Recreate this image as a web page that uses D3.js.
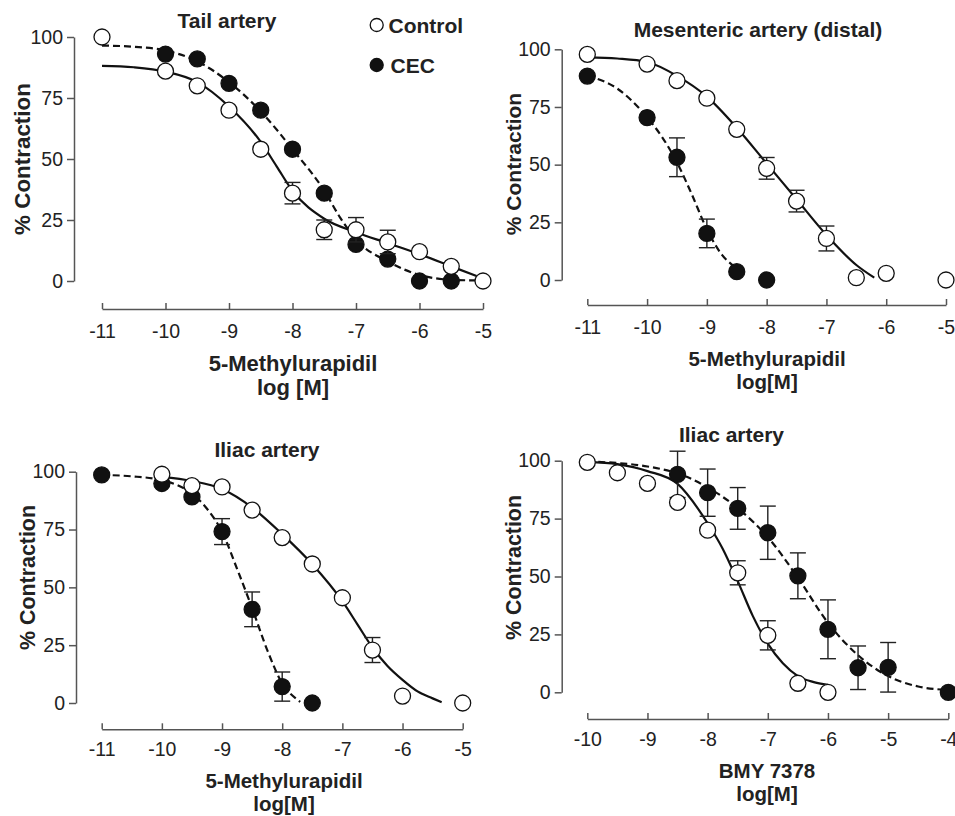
<!DOCTYPE html>
<html>
<head>
<meta charset="utf-8">
<script src="https://cdn.jsdelivr.net/npm/d3@7"></script>
<style>
  body { margin: 0; background: #fff; }
  svg text { font-family: "Liberation Sans", Arial, sans-serif; fill: #222; }
  .tick text { font-size: 19.5px; }
  .domain, .tick line { stroke: #555; stroke-width: 1.5; }
  .title, .label, .legend { font-weight: bold; }
</style>
</head>
<body>
<div id="chart"></div>
<script>
// ---- Tail artery (5-Methylurapidil)
var tailCtrlDose = [-11, -10, -9.5, -9, -8.5, -8, -7.5, -7, -6.5, -6, -5.5, -5];
var tailCtrl     = [100, 86, 80, 70, 54, 36, 21, 21, 16, 12, 6, 0];
var tailCtrlErr  = [0, 0, 0, 0, 0, 4.4, 4, 5, 4.8, 0, 0, 0];
var tailCecDose  = [-10, -9.5, -9, -8.5, -8, -7.5, -7, -6.5, -6, -5.5];
var tailCec      = [93, 91, 81, 70, 54, 36, 15, 9, 0, 0];
var tailCecErr   = [0, 0, 0, 0, 0, 0, 0, 0, 0, 0];
var tailCtrlFitX = [-11, -10.5, -10, -9.5, -9, -8.5, -8.25, -8, -7.5, -7, -6.5, -6, -5.5, -5.05];
var tailCtrlFitY = [88.2, 87.6, 85.8, 81.5, 71.5, 57, 47, 37, 25.5, 20, 15.5, 11, 6, 1.5];
var tailCecFitX  = [-11, -10.5, -10, -9.5, -9, -8.5, -8, -7.5, -7.25, -7, -6.5, -6, -5.5, -5];
var tailCecFitY  = [96.5, 96, 94.5, 90, 81.5, 69.5, 54, 37, 26, 17, 8, 2.5, 0.5, 0.2];

// ---- Mesenteric artery (distal) (5-Methylurapidil)
var mesCtrlDose = [-11, -10, -9.5, -9, -8.5, -8, -7.5, -7, -6.5, -6, -5];
var mesCtrl     = [97.8, 93.6, 86.4, 78.8, 65.3, 48.4, 34.2, 18, 1, 2.9, 0];
var mesCtrlErr  = [0, 0, 0, 0, 0, 4.7, 4.7, 5.4, 0, 0, 0];
var mesCecDose  = [-11, -10, -9.5, -9, -8.5, -8];
var mesCec      = [88.4, 70.4, 53.2, 20.2, 3.6, 0];
var mesCecErr   = [0, 0, 8.4, 6.2, 0, 0];
var mesCtrlFitX = [-11, -10.5, -10, -9.5, -9, -8.5, -8, -7.5, -7, -6.5, -6.2];
var mesCtrlFitY = [96.5, 96, 94.5, 88.5, 79.5, 66, 50.5, 35, 19.5, 6.5, 1];
var mesCecFitX  = [-11, -10.5, -10, -9.75, -9.5, -9.25, -9, -8.75, -8.5, -8.35];
var mesCecFitY  = [88.5, 83, 70.5, 62, 51, 37, 22, 11, 5, 2];

// ---- Iliac artery (5-Methylurapidil)
var ilCtrlDose = [-10, -9.5, -9, -8.5, -8, -7.5, -7, -6.5, -6, -5];
var ilCtrl     = [98.9, 94, 93.4, 83.4, 71.5, 60.1, 45.5, 22.9, 3, 0];
var ilCtrlErr  = [0, 0, 0, 0, 0, 0, 0, 5.4, 0, 0];
var ilCecDose  = [-11, -10, -9.5, -9, -8.5, -8, -7.5];
var ilCec      = [98.6, 94.9, 89.1, 74.1, 40.5, 7.1, 0];
var ilCecErr   = [0, 0, 0, 5.6, 7.5, 6.3, 0];
var ilCtrlFitX = [-10, -9.5, -9, -8.5, -8, -7.5, -7, -6.75, -6.5, -6.25, -6, -5.75, -5.5, -5.35];
var ilCtrlFitY = [97.8, 96, 92.5, 84.5, 73, 60, 44, 34, 24, 16, 10, 5, 2, 0.3];
var ilCecFitX  = [-11, -10.5, -10, -9.5, -9.25, -9, -8.75, -8.5, -8.25, -8, -7.75, -7.7];
var ilCecFitY  = [98.6, 98, 96.3, 90.5, 84, 74, 58, 41, 23, 8.5, 1.5, 0.5];

// ---- Iliac artery (BMY 7378)
var bmyCtrlDose = [-10, -9.5, -9, -8.5, -8, -7.5, -7, -6.5, -6];
var bmyCtrl     = [99.3, 94.8, 90.2, 82, 70, 51.6, 24.6, 3.9, 0];
var bmyCtrlErr  = [0, 0, 0, 0, 0, 5.2, 6.3, 0, 0];
var bmyCecDose  = [-8.5, -8, -7.5, -7, -6.5, -6, -5.5, -5, -4];
var bmyCec      = [94.1, 86.2, 79.4, 68.9, 50.3, 27.2, 10.6, 10.8, 0];
var bmyCecErr   = [10, 10.2, 9, 11.5, 9.9, 12.7, 9.4, 10.7, 0];
var bmyCtrlFitX = [-10, -9.5, -9, -8.5, -8, -7.75, -7.5, -7.25, -7, -6.75, -6.5, -6.25, -6];
var bmyCtrlFitY = [99.5, 98.5, 95.5, 90, 73, 62, 48, 33, 21, 12.5, 7, 4.5, 3.2];
var bmyCecFitX  = [-10, -9.5, -9, -8.5, -8, -7.5, -7, -6.5, -6, -5.5, -5, -4.5, -4];
var bmyCecFitY  = [99.6, 99, 97.5, 94.5, 88.5, 79.5, 67, 49.5, 30, 16, 7, 2.5, 1];

var yTicks = [0, 25, 50, 75, 100];

function zip(a, b, e) {
    return a.map(function(d, i) { return { x: d, y: b[i], e: e ? e[i] : 0 }; });
}

// layout of the four panels (pixel boxes)
var panels = [
    { title: "Tail artery", drug: "5-Methylurapidil", unit: "log [M]",
      xDom: [-11, -5], xr: [102, 483], yr: [281, 37], yAxisX: 74, xAxisY: 309, pad: 15,
      titleXY: [227, 27.5], ylabXY: [29.5, 159], xlabXY: [293, 371], unitY: 394.5,
      xlabSize: 22, ylabSize: 22.4,
      ctrl: zip(tailCtrlDose, tailCtrl, tailCtrlErr), cec: zip(tailCecDose, tailCec, tailCecErr),
      ctrlFit: zip(tailCtrlFitX, tailCtrlFitY), cecFit: zip(tailCecFitX, tailCecFitY), legend: true },
    { title: "Mesenteric artery (distal)", drug: "5-Methylurapidil", unit: "log[M]",
      xDom: [-11, -5], xr: [587.3, 946], yr: [280, 49.3], yAxisX: 561.7, xAxisY: 305, pad: 15,
      titleXY: [758, 37], ylabXY: [521, 164], xlabXY: [767, 365.5], unitY: 388.5,
      xlabSize: 20.5, ylabSize: 21,
      ctrl: zip(mesCtrlDose, mesCtrl, mesCtrlErr), cec: zip(mesCecDose, mesCec, mesCecErr),
      ctrlFit: zip(mesCtrlFitX, mesCtrlFitY), cecFit: zip(mesCecFitX, mesCecFitY) },
    { title: "Iliac artery", drug: "5-Methylurapidil", unit: "log[M]",
      xDom: [-11, -5], xr: [101.7, 462.7], yr: [703, 471.7], yAxisX: 76, xAxisY: 729.3, pad: 13,
      titleXY: [267, 457], ylabXY: [34.5, 577.5], xlabXY: [284, 787.5], unitY: 811,
      xlabSize: 20.5, ylabSize: 21.4,
      ctrl: zip(ilCtrlDose, ilCtrl, ilCtrlErr), cec: zip(ilCecDose, ilCec, ilCecErr),
      ctrlFit: zip(ilCtrlFitX, ilCtrlFitY), cecFit: zip(ilCecFitX, ilCecFitY) },
    { title: "Iliac artery", drug: "BMY 7378", unit: "log[M]",
      xDom: [-10, -4], xr: [587.3, 948.3], yr: [692.3, 460.7], yAxisX: 561.7, xAxisY: 719, pad: 13,
      titleXY: [731.5, 441.5], ylabXY: [521, 567.5], xlabXY: [767, 777.5], unitY: 801,
      xlabSize: 20.5, ylabSize: 21.4,
      ctrl: zip(bmyCtrlDose, bmyCtrl, bmyCtrlErr), cec: zip(bmyCecDose, bmyCec, bmyCecErr),
      ctrlFit: zip(bmyCtrlFitX, bmyCtrlFitY), cecFit: zip(bmyCecFitX, bmyCecFitY) }
];

var svg = d3.select("#chart").append("svg")
    .attr("width", 955)
    .attr("height", 816);

function drawSeries(g, x, y, data, filled) {
    var bars = data.filter(function(d) { return d.e > 0; });
    var eb = g.append("g").attr("stroke", "#222").attr("stroke-width", 1.4).attr("fill", "none");
    bars.forEach(function(d) {
        var cx = x(d.x), top = y(d.y + d.e), bot = y(Math.max(0, d.y - d.e));
        eb.append("line").attr("x1", cx).attr("x2", cx).attr("y1", top).attr("y2", bot);
        eb.append("line").attr("x1", cx - 8).attr("x2", cx + 8).attr("y1", top).attr("y2", top);
        eb.append("line").attr("x1", cx - 8).attr("x2", cx + 8).attr("y1", bot).attr("y2", bot);
    });
    g.selectAll(null)
        .data(data)
        .enter()
        .append("circle")
        .attr("cx", function(d) { return x(d.x); })
        .attr("cy", function(d) { return y(d.y); })
        .attr("r", 8)
        .attr("fill", filled ? "#111" : "#fff")
        .attr("stroke", "#111")
        .attr("stroke-width", 1.3);
}

panels.forEach(function(p) {
    var x = d3.scaleLinear().domain(p.xDom).range(p.xr);
    var y = d3.scaleLinear().domain([0, 100]).range(p.yr);
    var g = svg.append("g");

    g.append("g")
        .attr("transform", "translate(" + p.yAxisX + ",0)")
        .call(d3.axisLeft(y).tickValues(yTicks).tickSize(7).tickPadding(4).tickSizeOuter(0));

    g.append("g")
        .attr("transform", "translate(0," + p.xAxisY + ")")
        .call(d3.axisBottom(x)
            .tickValues(d3.range(p.xDom[0], p.xDom[1] + 1))
            .tickSize(-6).tickSizeOuter(0).tickPadding(p.pad)
            .tickFormat(function(d) { return String(d); }));

    g.selectAll(".domain").attr("fill", "none");

    var line = d3.line()
        .x(function(d) { return x(d.x); })
        .y(function(d) { return y(d.y); })
        .curve(d3.curveMonotoneX);

    // fitted curves: CEC dashed, control solid
    g.append("path").datum(p.cecFit)
        .attr("d", line).attr("fill", "none")
        .attr("stroke", "#111").attr("stroke-width", 2.2).attr("stroke-dasharray", "7,4");
    g.append("path").datum(p.ctrlFit)
        .attr("d", line).attr("fill", "none")
        .attr("stroke", "#111").attr("stroke-width", 2.2);

    drawSeries(g, x, y, p.cec, true);
    drawSeries(g, x, y, p.ctrl, false);

    g.append("text").attr("class", "title")
        .attr("x", p.titleXY[0]).attr("y", p.titleXY[1])
        .attr("text-anchor", "middle").style("font-size", "21px")
        .text(p.title);

    g.append("text").attr("class", "label")
        .attr("transform", "translate(" + p.ylabXY[0] + "," + p.ylabXY[1] + ") rotate(-90)")
        .attr("text-anchor", "middle").style("font-size", p.ylabSize + "px")
        .text("% Contraction");

    g.append("text").attr("class", "label")
        .attr("x", p.xlabXY[0]).attr("y", p.xlabXY[1])
        .attr("text-anchor", "middle").style("font-size", p.xlabSize + "px")
        .text(p.drug);
    g.append("text").attr("class", "label")
        .attr("x", p.xlabXY[0]).attr("y", p.unitY)
        .attr("text-anchor", "middle").style("font-size", p.xlabSize + "px")
        .text(p.unit);

    if (p.legend) {
        var lg = g.append("g").attr("class", "legend");
        lg.append("circle").attr("cx", 376.7).attr("cy", 25).attr("r", 6.5)
            .attr("fill", "#fff").attr("stroke", "#111").attr("stroke-width", 1.3);
        lg.append("text").attr("x", 388.5).attr("y", 32.5).style("font-size", "21px").text("Control");
        lg.append("circle").attr("cx", 376.7).attr("cy", 65).attr("r", 6.5)
            .attr("fill", "#111").attr("stroke", "#111").attr("stroke-width", 1.3);
        lg.append("text").attr("x", 390.5).attr("y", 72.5).style("font-size", "21px").text("CEC");
    }
});
</script>
</body>
</html>
